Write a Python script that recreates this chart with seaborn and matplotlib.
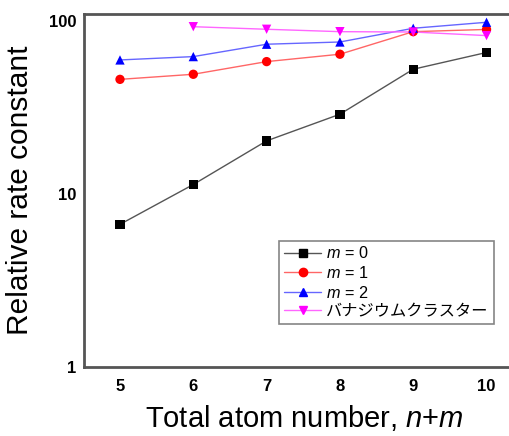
import pandas as pd
import seaborn as sns
import matplotlib.pyplot as plt
from matplotlib.ticker import LogLocator, NullFormatter, FixedLocator

# values
atoms = [5, 6, 7, 8, 9, 10]
m0 = [6.65, 11.3, 20.2, 28.8, 52.4, 65.5]
m1 = [45.8, 49.0, 58.0, 64.0, 86.4, 89.0]
m2 = [59.3, 62.0, 73.1, 75.3, 90.4, 97.9]
vanadium_atoms = [6, 7, 8, 9, 10]
vanadium = [92.3, 89.2, 86.4, 86.0, 82.0]

labels = ["$m$ = 0", "$m$ = 1", "$m$ = 2", "バナジウムクラスター"]
colors = ["black", "red", "blue", "magenta"]
markers = ["s", "o", "^", "v"]
line_colors = ["#555555", "#ff6666", "#6666ff", "#ff66ff"]

rows = []
for lab, xs, ys in zip(labels, [atoms, atoms, atoms, vanadium_atoms], [m0, m1, m2, vanadium]):
    for x, y in zip(xs, ys):
        rows.append({"n+m": x, "rate": y, "series": lab})
df = pd.DataFrame(rows)

sns.set_style("white")
plt.rcParams['font.family'] = ['Liberation Sans', 'Noto Sans CJK JP', 'DejaVu Sans']
plt.rcParams['mathtext.fontset'] = 'custom'
plt.rcParams['mathtext.it'] = 'Liberation Sans:italic'
plt.rcParams['mathtext.rm'] = 'Liberation Sans'
plt.rcParams['text.color'] = 'black'
plt.rcParams['axes.labelcolor'] = 'black'

fig = plt.figure(figsize=(5.1, 4.36), dpi=100)
ax = fig.add_axes([84 / 510, 69.3 / 436, 426 / 510, 352.7 / 436])

# lines drawn first in lighter colours, markers on top
sns.lineplot(data=df, x="n+m", y="rate", hue="series", palette=dict(zip(labels, line_colors)),
             hue_order=labels, lw=1, legend=False, ax=ax, estimator=None, sort=True)
sns.scatterplot(data=df, x="n+m", y="rate", hue="series", style="series",
                palette=dict(zip(labels, colors)), markers=dict(zip(labels, markers)),
                hue_order=labels, style_order=labels, s=45, edgecolor=None, linewidth=0,
                legend=False, ax=ax, zorder=3)

ax.set_yscale("log")
ax.set_xlim(4.509, 10.32)
ax.set_ylim(1, 109.3)

ax.xaxis.set_major_locator(FixedLocator(atoms))
ax.set_xticklabels([str(a) for a in atoms])
ax.yaxis.set_major_locator(FixedLocator([1, 10, 100]))
ax.set_yticklabels(["1", "10", "100"])
ax.yaxis.set_minor_locator(LogLocator(base=10, subs=range(2, 10)))
ax.yaxis.set_minor_formatter(NullFormatter())

for lab in ax.get_xticklabels() + ax.get_yticklabels():
    lab.set_fontweight("bold")
    lab.set_fontsize(12)

ax.tick_params(axis="x", direction="in", length=5, width=1.2, color="#444444", pad=9, labelcolor="black")
ax.tick_params(axis="y", which="major", direction="inout", length=7, width=1.2, color="#444444", pad=2,
               labelcolor="black")
ax.tick_params(axis="y", which="minor", direction="in", length=5, width=1.2, color="#444444")

ax.spines["right"].set_visible(False)
for side in ["left", "bottom", "top"]:
    ax.spines[side].set_color("#555555")
    ax.spines[side].set_linewidth(2)

ax.set_xlabel("Total atom number, $n$+$m$", fontsize=21)
ax.set_ylabel("Relative rate constant", fontsize=21.5)
ax.xaxis.set_label_coords(0.518, -0.104)
ax.yaxis.set_label_coords(-0.117, 0.5)

# legend proxies
handles = []
for lab, c, lc, mk in zip(labels, colors, line_colors, markers):
    h, = ax.plot([], [], color=lc, lw=1, marker=mk, markersize=6,
                 markerfacecolor=c, markeredgecolor=c, label=lab)
    handles.append(h)
leg = ax.legend(handles=handles, loc="lower left", bbox_to_anchor=(0.458, 0.121),
                borderaxespad=0, fontsize=11.7, frameon=True, fancybox=False,
                handlelength=2.3, handletextpad=0.3, labelspacing=0.22, borderpad=0.3)
leg.get_frame().set_edgecolor("#666666")
leg.get_frame().set_linewidth(1.2)

fig.savefig("out.png", dpi=100)
